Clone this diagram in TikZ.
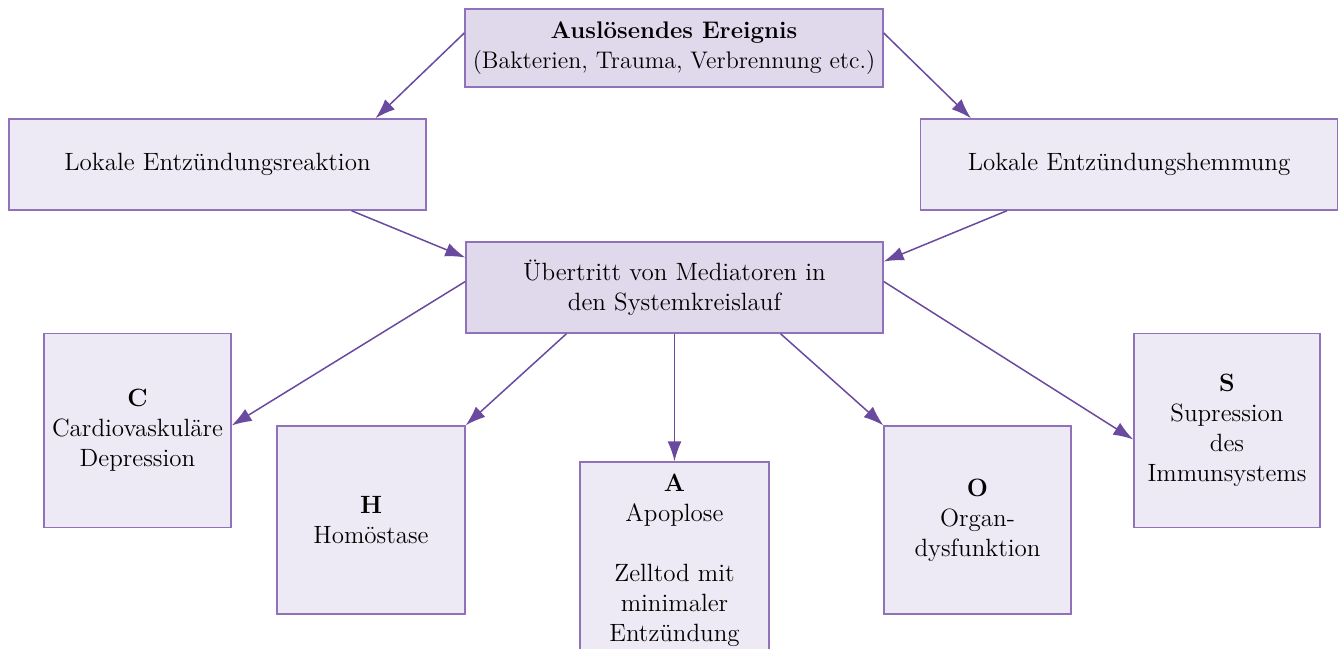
\documentclass[tikz,border=0pt]{standalone}
\usepackage{fontspec}
\usetikzlibrary{arrows.meta}
\definecolor{rahmen}{HTML}{8F72BA}
\definecolor{pfeil}{HTML}{6A4A9E}
\definecolor{dunkel}{HTML}{E0D9EC}
\definecolor{hell}{HTML}{EEEAF5}
\begin{document}
\begin{tikzpicture}[x=0.5pt,y=-0.5pt,
	box/.style={draw=rahmen,line width=0.7pt,inner sep=0pt,align=center,
		font=\fontsize{12.5}{15}\selectfont},
	hauptbox/.style={box,fill=dunkel},
	nebenbox/.style={box,fill=hell},
	pf/.style={draw=pfeil,line width=0.75pt,-{Latex[length=10pt,width=7pt]}}]
		\useasboundingbox (0,0) rectangle (1344,648);
		% Kaesten
		\node[hauptbox,minimum width=209pt,minimum height=39pt,font=\fontsize{12}{15}\selectfont] (ereignis) at (674,48)
			{\textbf{Auslösendes Ereignis}\\(Bakterien, Trauma, Verbrennung etc.)};
		\node[nebenbox,minimum width=208.5pt,minimum height=45.5pt] (reaktion) at (217.5,164.5)
			{Lokale Entzündungsreaktion};
		\node[nebenbox,minimum width=208.5pt,minimum height=45.5pt] (hemmung) at (1129,164.5)
			{Lokale Entzündungshemmung};
		\node[hauptbox,minimum width=208.5pt,minimum height=45.5pt] (uebertritt) at (674.5,287.5)
			{Übertritt von Mediatoren in\\den Systemkreislauf};
		\node[nebenbox,minimum width=93.5pt,minimum height=97pt] (C) at (137.5,430.5)
			{\textbf{C}\\Cardiovaskuläre\\Depression};
		\node[nebenbox,minimum width=94pt,minimum height=94pt] (H) at (371,520)
			{\textbf{H}\\Homöstase};
		\node[nebenbox,minimum width=94.5pt,minimum height=98pt] (A) at (674.5,560)
			{\textbf{A}\\Apoplose\\[15pt]Zelltod mit\\minimaler\\Entzündung};
		\node[nebenbox,minimum width=93.5pt,minimum height=94pt] (O) at (977.5,520)
			{\textbf{O}\\Organ-\\dysfunktion};
		\node[nebenbox,minimum width=93pt,minimum height=97pt] (S) at (1227,430.5)
			{\textbf{S}\\Supression\\des\\Immunsystems};
		% Pfeile
		\draw[pf] ([yshift=7.5pt]ereignis.west) -- ([xshift=79pt]reaktion.north);
		\draw[pf] ([yshift=7.5pt]ereignis.east) -- ([xshift=-79pt]hemmung.north);
		\draw[pf] ([xshift=67pt]reaktion.south) -- ([yshift=15pt]uebertritt.west);
		\draw[pf] ([xshift=-61pt]hemmung.south) -- ([yshift=13pt]uebertritt.east);
		\draw[pf] ([yshift=3pt]uebertritt.west) -- ([yshift=2.5pt]C.east);
		\draw[pf] ([xshift=-54pt]uebertritt.south) -- (H.north east);
		\draw[pf] (uebertritt.south) -- (A.north);
		\draw[pf] ([xshift=53pt]uebertritt.south) -- (O.north west);
		\draw[pf] ([yshift=3pt]uebertritt.east) -- ([yshift=-4.5pt]S.west);
	\end{tikzpicture}
\end{document}
